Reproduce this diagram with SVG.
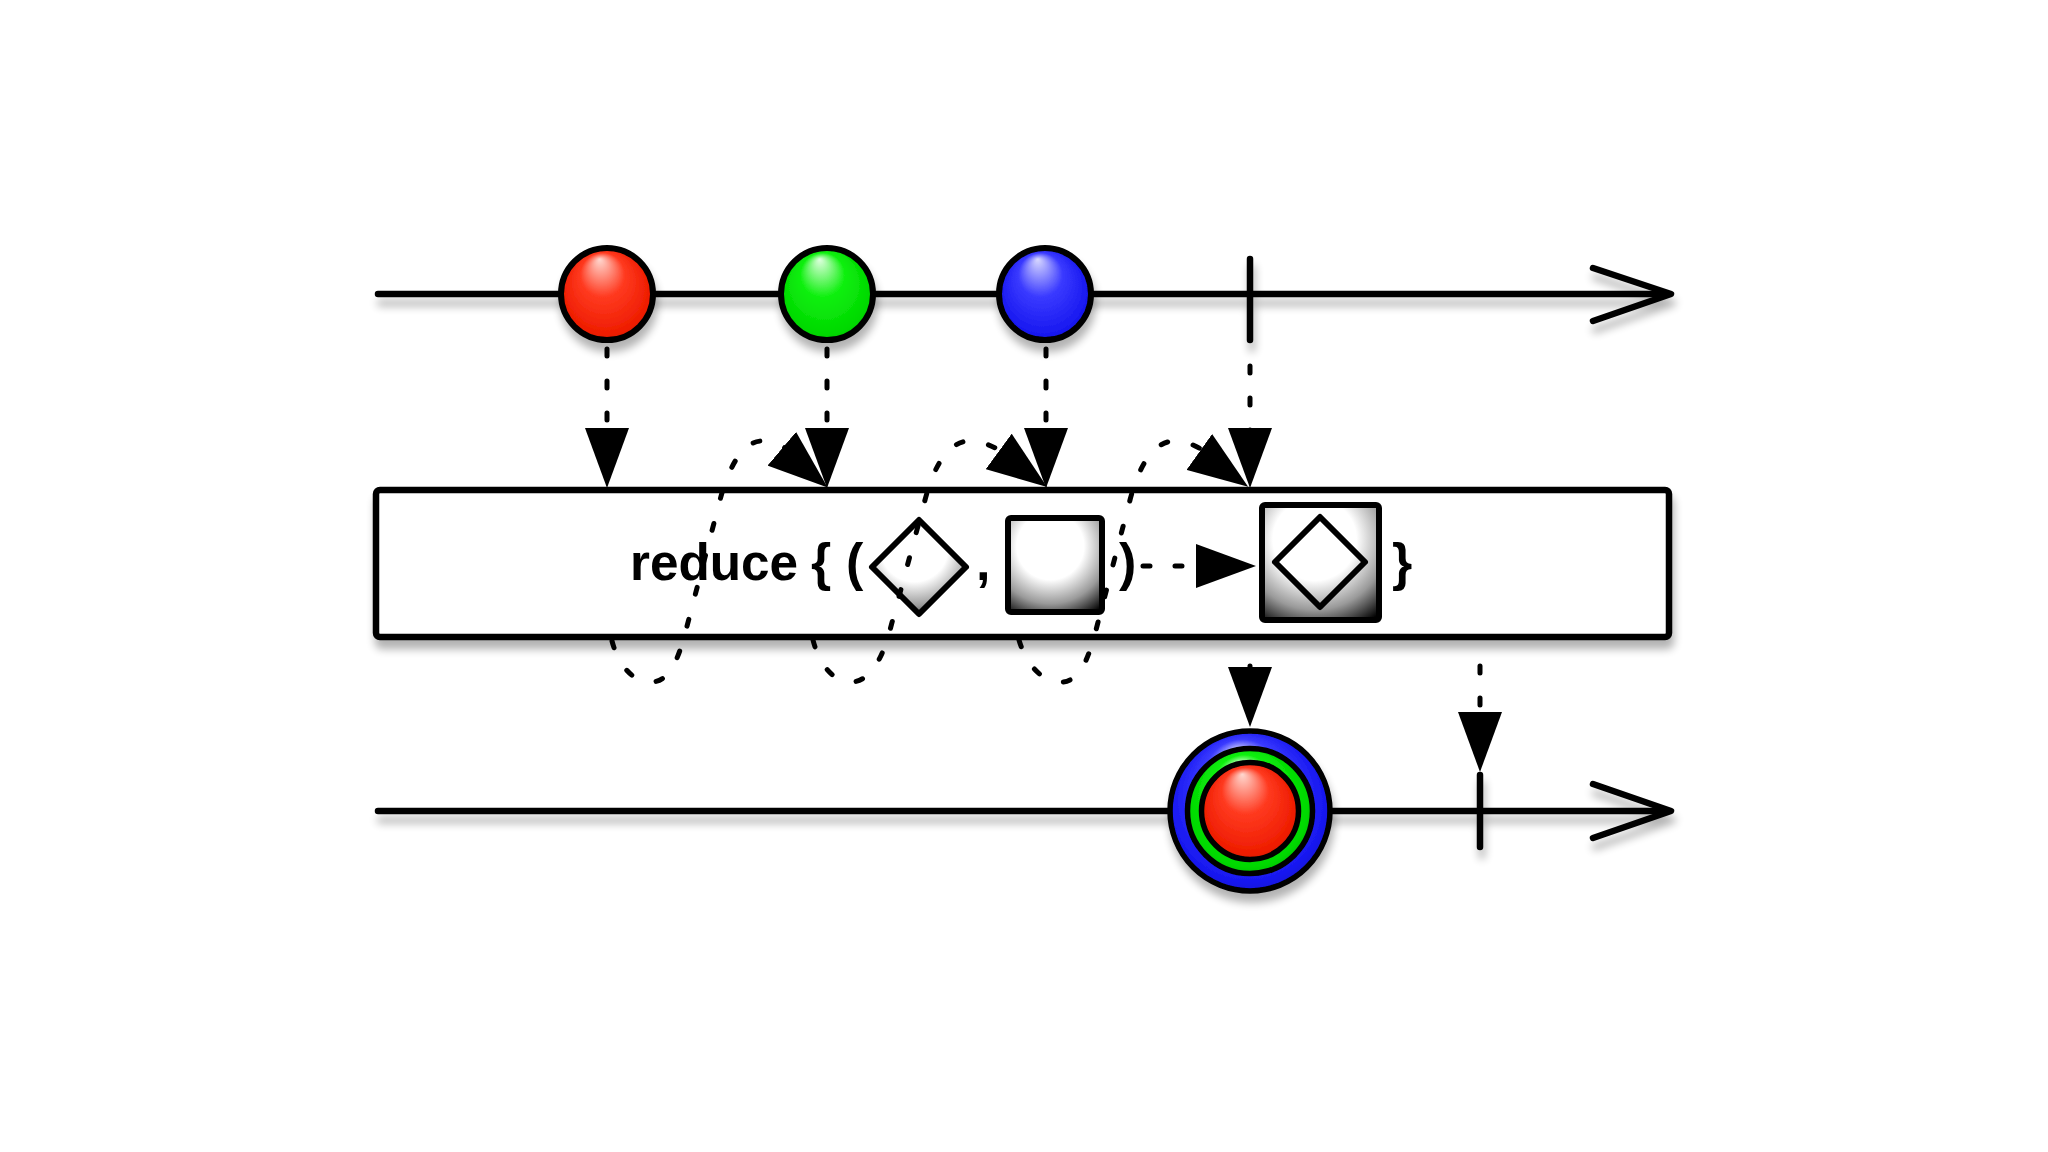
<svg xmlns="http://www.w3.org/2000/svg" width="2048" height="1152" viewBox="0 0 2048 1152">
<defs>
<style>
.line{fill:none;stroke:#000;stroke-width:6.5;stroke-linecap:round;stroke-linejoin:round}
.dash{fill:none;stroke:#000;stroke-width:5;stroke-linecap:round;stroke-dasharray:7 25}
.loop{fill:none;stroke:#000;stroke-width:5;stroke-linecap:round;stroke-dasharray:7 26}
.ball{stroke:#000;stroke-width:6}
.ring{stroke:#000;stroke-width:5.5}
.lbl{font-family:"Liberation Sans",Arial,Helvetica,sans-serif;font-weight:bold;font-size:52px;fill:#000}
.shape{stroke:#000;stroke-width:6;stroke-linejoin:round}
</style>
<filter id="shadow" filterUnits="userSpaceOnUse" x="0" y="0" width="2048" height="1152">
<feGaussianBlur in="SourceAlpha" stdDeviation="4"/>
<feOffset dx="2" dy="9" result="o"/>
<feComponentTransfer><feFuncA type="linear" slope="0.3"/></feComponentTransfer>
<feMerge><feMergeNode/><feMergeNode in="SourceGraphic"/></feMerge>
</filter>
<marker id="head" viewBox="0 0 60 44" refX="50" refY="22" markerWidth="60" markerHeight="44" markerUnits="userSpaceOnUse" orient="auto">
<path d="M0,0 L60,22 L0,44 Z" fill="#000"/>
</marker>
<radialGradient id="gRed" cx="0.5" cy="0.55" r="0.6" fx="0.42" fy="0.12">
<stop offset="0" stop-color="#ffd8d0"/><stop offset="0.4" stop-color="#ff3a20"/><stop offset="0.8" stop-color="#ee1c00"/><stop offset="1" stop-color="#a81000"/>
</radialGradient>
<radialGradient id="gGreen" cx="0.5" cy="0.55" r="0.6" fx="0.42" fy="0.12">
<stop offset="0" stop-color="#e0ffe0"/><stop offset="0.4" stop-color="#10f010"/><stop offset="0.8" stop-color="#00d800"/><stop offset="1" stop-color="#009800"/>
</radialGradient>
<radialGradient id="gBlue" cx="0.5" cy="0.55" r="0.6" fx="0.42" fy="0.12">
<stop offset="0" stop-color="#d8d8ff"/><stop offset="0.4" stop-color="#3a3aff"/><stop offset="0.8" stop-color="#1818f0"/><stop offset="1" stop-color="#0000a8"/>
</radialGradient>
<radialGradient id="gGrey" cx="0.45" cy="0.3" r="0.85" fx="0.45" fy="0.3">
<stop offset="0" stop-color="#fff"/><stop offset="0.42" stop-color="#fff"/><stop offset="0.72" stop-color="#9a9a9a"/><stop offset="1" stop-color="#000"/>
</radialGradient>
</defs>
<rect width="2048" height="1152" fill="#fff"/>

<g id="source-timeline" filter="url(#shadow)">
<path class="line" d="M378,294 H1668"/>
<path class="line" d="M1593,268 L1671,294 L1593,321"/>
<path class="line" d="M1250,259 V340"/>
</g>

<g id="marble-red" filter="url(#shadow)"><circle class="ball" cx="607" cy="294" r="46" fill="url(#gRed)"/></g>
<g id="marble-green" filter="url(#shadow)"><circle class="ball" cx="827" cy="294" r="46" fill="url(#gGreen)"/></g>
<g id="marble-blue" filter="url(#shadow)"><circle class="ball" cx="1045" cy="294" r="46" fill="url(#gBlue)"/></g>

<g id="operator-box">
<rect x="376" y="490" width="1293" height="147" rx="4" fill="#fff" stroke="#000" stroke-width="6.5" filter="url(#shadow)"/>
<text class="lbl" x="630" y="580" textLength="168" lengthAdjust="spacingAndGlyphs">reduce</text>
<text class="lbl" x="811" y="580">{</text>
<text class="lbl" x="846" y="580">(</text>
<polygon class="shape" points="919,520 966,567 919,614 872,567" fill="url(#gGrey)"/>
<text class="lbl" x="976" y="580">,</text>
<rect class="shape" x="1008" y="518" width="94" height="94" rx="3" fill="url(#gGrey)"/>
<text class="lbl" x="1119" y="580">)</text>
<rect class="shape" x="1262" y="505" width="117" height="115" rx="3" fill="url(#gGrey)"/>
<polygon class="shape" points="1320,517 1365,562 1320,607 1275,562" fill="none"/>
<text class="lbl" x="1392" y="580">}</text>
</g>

<g id="result-timeline" filter="url(#shadow)">
<path class="line" d="M378,811 H1668"/>
<path class="line" d="M1593,784 L1671,811 L1593,838"/>
<path class="line" d="M1480,775 V847"/>
</g>

<g id="marble-result" filter="url(#shadow)">
<circle class="ring" cx="1250" cy="811" r="80" fill="url(#gBlue)"/>
<circle class="ring" cx="1250" cy="811" r="62.5" fill="url(#gGreen)"/>
<circle class="ring" cx="1250" cy="811" r="48.5" fill="url(#gRed)"/>
</g>

<g id="connectors">
<path class="dash" d="M607,349 V478" marker-end="url(#head)"/>
<path class="dash" d="M827,349 V478" marker-end="url(#head)"/>
<path class="dash" d="M1046,349 V478" marker-end="url(#head)"/>
<path class="dash" d="M1250,366 V478" marker-end="url(#head)"/>
<path class="loop" d="M612,641 C619,668 636,684 653,682 C670,680 678,660 686,630 L720,500 C730,462 745,441 762,441 C790,441 807,470 820,481" marker-end="url(#head)"/>
<path class="loop" d="M813,640 C820,668 837,684 853,682 C870,680 882,660 890,630 L925,500 C935,462 950,441 970,441 C998,441 1024,470 1039,481" marker-end="url(#head)"/>
<path class="loop" d="M1019,640 C1027,668 1046,684 1063,682 C1080,680 1088,660 1096,630 L1130,500 C1140,462 1155,441 1175,441 C1203,441 1226,471 1240,481" marker-end="url(#head)"/>
<path class="dash" d="M1143,566 H1246" marker-end="url(#head)"/>
<path class="dash" d="M1250,666 V717" marker-end="url(#head)"/>
<path class="dash" d="M1480,666 V762" marker-end="url(#head)"/>
</g>
</svg>
